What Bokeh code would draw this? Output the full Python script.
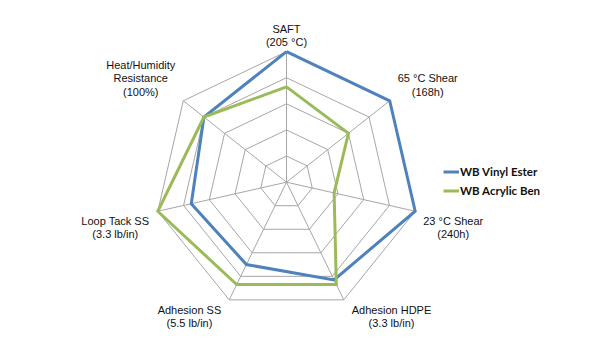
import math
from bokeh.plotting import figure
from bokeh.models import Range1d, ColumnDataSource, Legend, LegendItem
from bokeh.core.properties import value
from bokeh.embed import file_html
from bokeh.resources import INLINE

# ---------------- data ----------------
axis_labels = [
    ["SAFT", "(205 °C)"],
    ["65 °C Shear", "(168h)"],
    ["23 °C Shear", "(240h)"],
    ["Adhesion HDPE", "(3.3 lb/in)"],
    ["Adhesion SS", "(5.5 lb/in)"],
    ["Loop Tack SS", "(3.3 lb/in)"],
    ["Heat/Humidity", "Resistance", "(100%)"],
]
series_names = ["WB Vinyl Ester", "WB Acrylic Ben"]
vinyl_ester = [100, 100, 100, 83, 70, 74, 80]
acrylic_ben = [73, 60, 37, 87, 87, 100, 80]
ring_levels = [20, 40, 60, 80, 100]

# ---------------- layout / style ----------------
W, H = 615, 350
CX, CY = 286, 181.7          # centre in pixels (from top-left)
SX, SY = 1.32, 1.306         # pixels per value unit
BLUE = "#4F81BD"
GREEN = "#9BBB59"
GRID = "#A6A6A6"
FONT = "Liberation Sans"
FS = 11

n = len(axis_labels)
angles = [2 * math.pi * i / n for i in range(n)]


def pt(r, a):
    return r * math.sin(a), r * math.cos(a)


p = figure(width=W, height=H, output_backend="svg", toolbar_location=None,
           x_range=Range1d(-CX / SX, (W - CX) / SX),
           y_range=Range1d(-(H - CY) / SY, CY / SY),
           x_axis_location=None, y_axis_location=None,
           min_border=0, outline_line_color=None)
p.grid.visible = False
p.background_fill_color = "white"
p.border_fill_color = "white"

# grid rings
ring_xs, ring_ys = [], []
for lv in ring_levels:
    xs = [pt(lv, a)[0] for a in angles] + [pt(lv, angles[0])[0]]
    ys = [pt(lv, a)[1] for a in angles] + [pt(lv, angles[0])[1]]
    ring_xs.append(xs)
    ring_ys.append(ys)
p.multi_line(ring_xs, ring_ys, line_color=GRID, line_width=1)

# spokes
top = max(ring_levels)
p.multi_line([[0, pt(top, a)[0]] for a in angles],
             [[0, pt(top, a)[1]] for a in angles],
             line_color=GRID, line_width=1)

# series
def closed(vals):
    xs = [pt(v, a)[0] for v, a in zip(vals, angles)]
    ys = [pt(v, a)[1] for v, a in zip(vals, angles)]
    return xs + xs[:1], ys + ys[:1]

bx, by = closed(vinyl_ester)
gx, gy = closed(acrylic_ben)
r_blue = p.line(bx, by, line_color=BLUE, line_width=3, line_join="miter")
r_green = p.line(gx, gy, line_color=GREEN, line_width=3, line_join="miter")

# axis labels (Arial metrics to centre the lines of a block)
ARIAL = {"S": 667, "A": 667, "F": 611, "T": 611, "(": 333, ")": 333, " ": 278,
         "°": 400, "C": 722, "h": 556, "e": 556, "a": 556, "r": 333, "d": 556,
         "s": 500, "i": 222, "o": 556, "n": 556, "H": 722, "D": 722, "P": 667,
         "E": 667, ".": 278, "l": 222, "b": 556, "/": 278, "L": 556, "p": 556,
         "c": 500, "k": 500, "u": 556, "m": 833, "t": 278, "y": 500, "R": 722,
         "%": 889}


def text_w(s):
    return sum(ARIAL.get(ch, 556) for ch in s) * FS / 1000.0


GAP_X = 8
LINE_H = 13.3
lx, ly, lt, lxo, lyo = [], [], [], [], []
for lines, a in zip(axis_labels, angles):
    vx, vy = pt(top, a)
    s, c = math.sin(a), math.cos(a)
    w = max(text_w(t) for t in lines)
    if abs(s) < 0.1:
        xo = 0
    elif s > 0:
        xo = GAP_X + w / 2
    else:
        xo = -(GAP_X + w / 2)
    m = len(lines)
    for k, t in enumerate(lines):
        if c > 0:
            yo = -9.2 - (m - 1 - k) * LINE_H
        else:
            yo = 9.8 + k * LINE_H
        lx.append(vx)
        ly.append(vy)
        lt.append(t)
        lxo.append(xo)
        lyo.append(yo)

src = ColumnDataSource(dict(x=lx, y=ly, t=lt, xo=lxo, yo=lyo))
p.text(x="x", y="y", text="t", x_offset="xo", y_offset="yo", source=src,
       text_font=value(FONT), text_font_size=f"{FS}px", text_color="#111111",
       text_align="center", text_baseline="middle")

# legend
legend = Legend(items=[LegendItem(label=series_names[0], renderers=[r_blue]),
                       LegendItem(label=series_names[1], renderers=[r_green])],
                location=(443, 150), orientation="vertical",
                glyph_width=16, glyph_height=19, label_height=19,
                label_standoff=1, spacing=0, padding=0, margin=0,
                label_text_font="Lato", label_text_font_style="bold",
                label_text_font_size="11.5px", label_text_color="#111111",
                background_fill_alpha=0, border_line_alpha=0)
p.add_layout(legend)

open("out.html", "w").write(file_html(p, INLINE))
